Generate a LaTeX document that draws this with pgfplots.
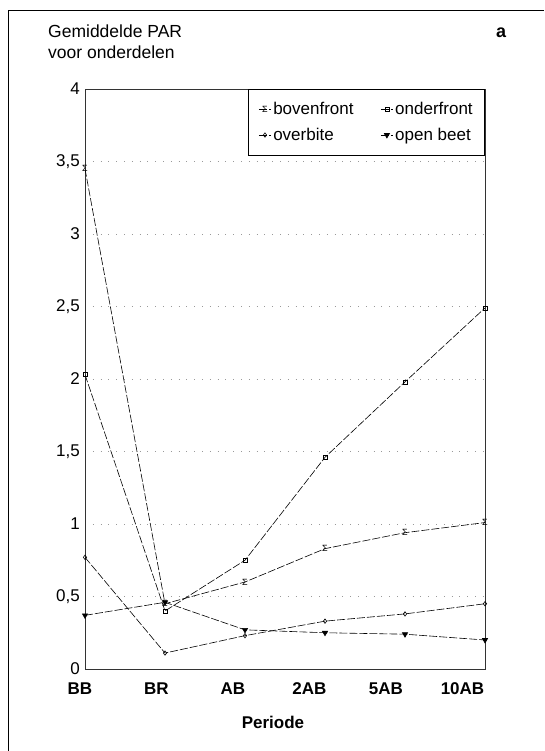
\documentclass[border=0pt]{standalone}
\usepackage{fontspec}
\setmainfont{Liberation Sans}
\usepackage{pgfplots}
\pgfplotsset{compat=1.18}
\begin{document}
\begin{tikzpicture}[x=1pt,y=1pt]
\useasboundingbox (0,0) rectangle (544,751);
\draw[line width=0.9pt] (8,0) -- (8,741) -- (544,741);
\node[anchor=north west, align=left, font=\fontsize{17.5}{21}\selectfont, inner sep=0pt] at (48,726) {Gemiddelde PAR\\voor onderdelen};
\node[anchor=north west, font=\bfseries\fontsize{18}{20}\selectfont, inner sep=0pt] at (496,723) {a};
\begin{axis}[
  at={(85pt,82pt)}, anchor=south west,
  scale only axis, width=400pt, height=580pt,
  xmin=0, xmax=5, ymin=0, ymax=4,
  xtick={0,1,2,3,4,5},
  xticklabels={BB,BR,AB,2AB,5AB,10AB},
  ytick={0,0.5,1,1.5,2,2.5,3,3.5,4},
  /pgf/number format/use comma,
  /pgf/number format/assume math mode=true,
  major tick length=0pt,
  axis line style={black!80, line width=0.7pt},
  ymajorgrids,
  grid style={black!40, line width=0.6pt, dash pattern=on 0.8pt off 7pt},
  ticklabel style={font=\fontsize{17}{19}\selectfont},
  xticklabel style={font=\bfseries\fontsize{17}{19}\selectfont, inner sep=0pt, anchor=base, yshift=-26pt, xshift={-(5+3.5*\ticknum)*1pt}},
  yticklabel style={inner sep=0pt, anchor=east, xshift=-5pt},
  xlabel={Periode},
  xlabel style={font=\bfseries\fontsize{17}{19}\selectfont, at={(axis description cs:0.47,0)}, anchor=north, inner sep=0pt, yshift=-47pt},
  legend columns=2,
  legend style={at={(1,1)}, anchor=north east, draw=black, line width=0.6pt,
    font=\fontsize{17}{19}\selectfont, inner xsep=10pt, inner ysep=11pt,
    row sep=8pt,
    /tikz/every even column/.append style={column sep=25pt}},
  legend cell align=left,
  legend image code/.code={\draw[mark repeat=2,mark phase=2,#1] plot coordinates {(0pt,0pt) (6pt,0pt) (12pt,0pt)};},
]
\addplot[black, line width=0.6pt, dash pattern=on 8pt off 2pt, mark=text, text mark={\fontsize{9}{9}\selectfont Σ}, mark options={solid}] coordinates {(0,3.45)(1,0.45)(2,0.60)(3,0.83)(4,0.94)(5,1.01)};
\addlegendentry{bovenfront}
\addplot[black, line width=0.6pt, dash pattern=on 8pt off 2pt, mark=square, mark size=2pt, mark options={solid, fill=white}] coordinates {(0,2.03)(1,0.40)(2,0.75)(3,1.46)(4,1.98)(5,2.49)};
\addlegendentry{onderfront}
\addplot[black, line width=0.6pt, dash pattern=on 8pt off 2pt, mark=diamond, mark size=2.2pt, mark options={solid, fill=white}] coordinates {(0,0.77)(1,0.11)(2,0.23)(3,0.33)(4,0.38)(5,0.45)};
\addlegendentry{overbite}
\addplot[black, line width=0.6pt, dash pattern=on 8pt off 2pt, mark=triangle*, mark size=3pt, mark options={solid, rotate=180, fill=black}] coordinates {(0,0.37)(1,0.46)(2,0.27)(3,0.25)(4,0.24)(5,0.20)};
\addlegendentry{open beet}
\end{axis}
\end{tikzpicture}
\end{document}
